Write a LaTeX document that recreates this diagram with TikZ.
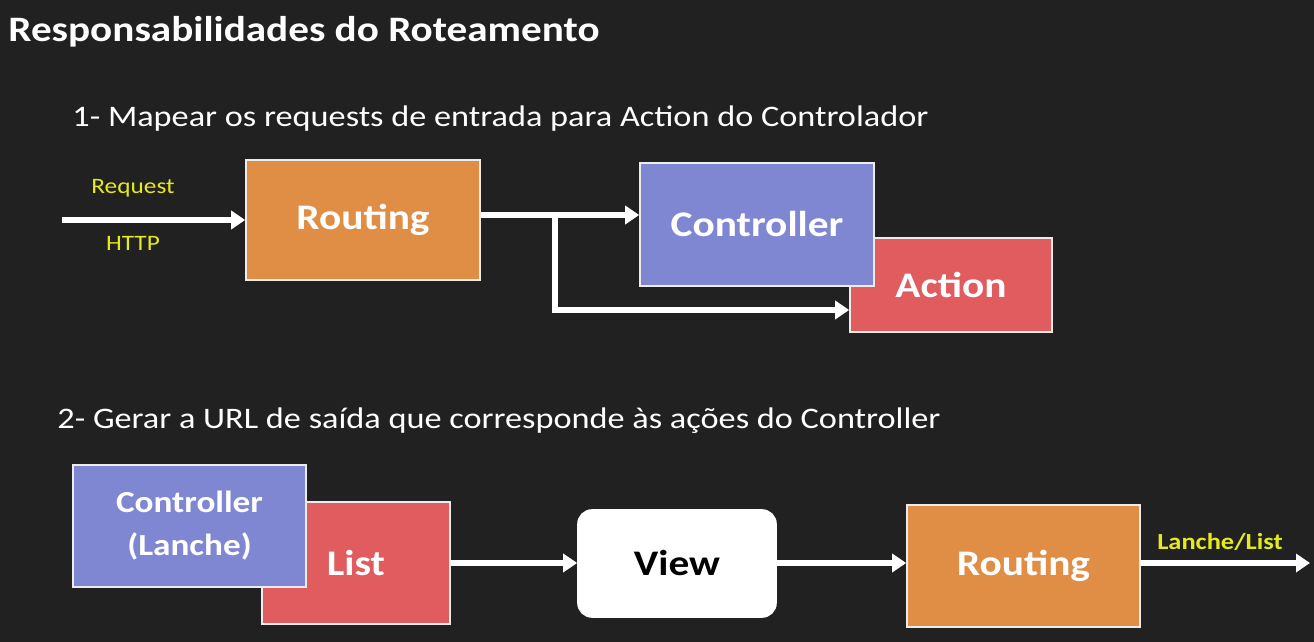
\documentclass[tikz,border=0pt]{standalone}
\usepackage{fontspec}
\setmainfont{Carlito}[FakeStretch=1.15]
\usetikzlibrary{arrows.meta,positioning,calc}
\definecolor{board}{HTML}{212121}
\definecolor{routecol}{HTML}{E08E45}
\definecolor{ctrlcol}{HTML}{8087D2}
\definecolor{actcol}{HTML}{E05C5E}
\definecolor{chalkyellow}{HTML}{E4EA1C}
\tikzset{flow/.style = {draw=white, line width=2.8pt, -{Triangle[length=7pt,width=9pt]}}}

\begin{document}
\begin{tikzpicture}[x=0.5pt, y=-0.5pt,
    every node/.style={inner sep=0pt},
    box/.style={draw=white!85!gray, line width=0.8pt, text=white, font=\fontsize{18}{20}\selectfont\bfseries, align=center},
    heading/.style={text=white, anchor=base west}]
    \fill[board] (0,0) rectangle (1314,642);
    \useasboundingbox (0,0) rectangle (1314,642);

    % create the nodes
    \node (title)[heading, font=\fontsize{17.9}{20}\selectfont\bfseries] at (8,42) {Responsabilidades do Roteamento};
    \node (step1)[heading, font=\fontsize{14.9}{18}\selectfont] at (72,127) {1- Mapear os requests de entrada para Action do Controlador};
    \node (step2)[heading, font=\fontsize{14.9}{18}\selectfont] at (57,428) {2- Gerar a URL de saída que corresponde às ações do Controller};

    \node (routing)[box, fill=routecol, minimum width=117pt, minimum height=60pt] at (363,220) {Routing};
    \node (action)[box, fill=actcol, minimum width=101pt, minimum height=47pt] at (951,285) {Action};
    \node (ctrl)[box, fill=ctrlcol, minimum width=117pt, minimum height=61.5pt] at (757,224.5) {Controller};
    \node (req)[text=chalkyellow, font=\fontsize{11}{14}\selectfont] at (133,188) {Request};
    \node (http)[text=chalkyellow, font=\fontsize{11}{14}\selectfont] at (133,243) {HTTP};
    \coordinate (start) at (62,220);
    \coordinate (junc) at (558,215);
    \coordinate (bend) at (558,310);

    \node (list)[box, fill=actcol, minimum width=94pt, minimum height=61pt] at (356,563) {List};
    \node (ctrllanche)[box, fill=ctrlcol, minimum width=116.5pt, minimum height=61pt, font=\fontsize{15.3}{21.5}\selectfont\bfseries] at (189.5,526) {Controller\\(Lanche)};
    \node (view)[box, fill=white, draw=white, text=black, rounded corners=7pt, minimum width=99pt, minimum height=53.5pt] at (677,563.5) {View};
    \node (routing2)[box, fill=routecol, minimum width=116.5pt, minimum height=61pt] at (1023.5,566) {Routing};
    \coordinate (out) at (1310,563);
    \node (url)[text=chalkyellow, font=\fontsize{11.5}{14}\selectfont\bfseries] at (1220,542) {Lanche/List};

    % connect the nodes
    \draw[flow] (start) to (routing.west |- start);
    \draw[flow] (routing.east |- junc) -- (ctrl.west |- junc);
    \draw[flow] ([xshift=-1.4pt]junc) |- (action.west |- bend);
    \draw[flow] (list.east |- out) -- (view.west |- out);
    \draw[flow] (view.east |- out) -- (routing2.west |- out);
    \draw[flow] (routing2.east |- out) -- (out);

\end{tikzpicture}
\end{document}
